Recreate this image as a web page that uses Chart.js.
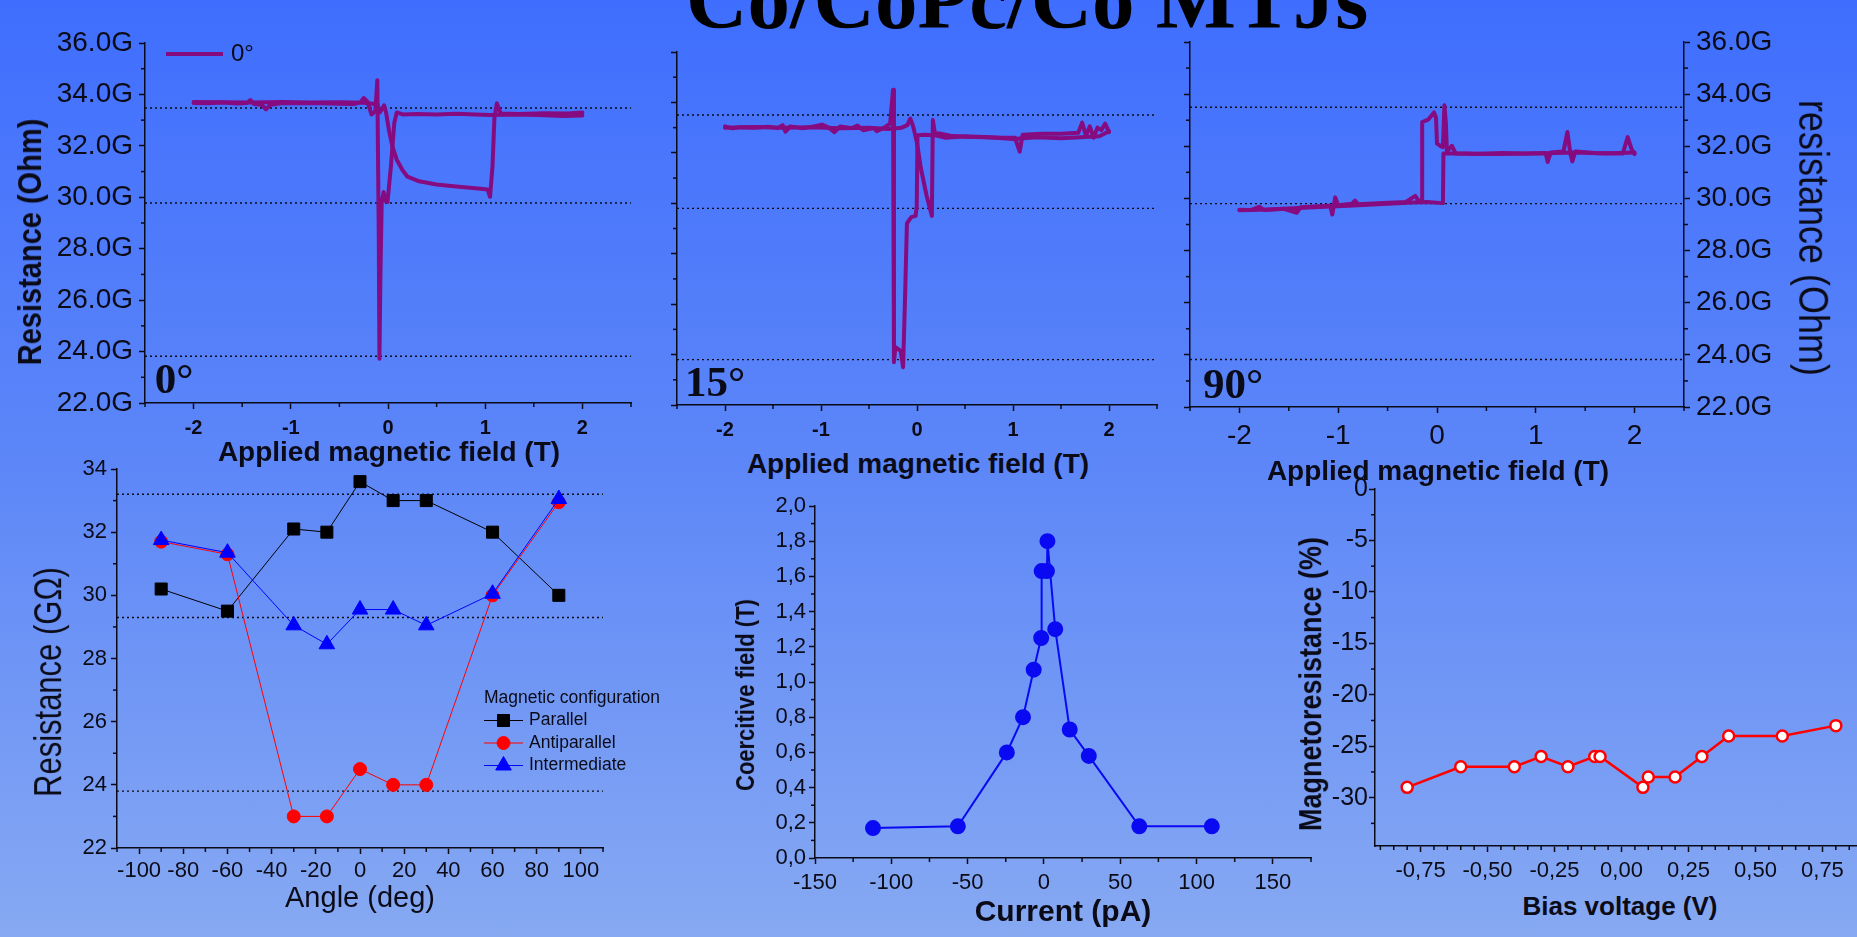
<!DOCTYPE html>
<html>
<head>
<meta charset="utf-8">
<script src="https://cdn.jsdelivr.net/npm/chart.js@4.4.1/dist/chart.umd.min.js"></script>
<style>
  html, body { margin: 0; padding: 0; }
  body {
    width: 1857px; height: 937px; overflow: hidden; position: relative;
    background: linear-gradient(to bottom, #3f6efe 0%, #5d87f8 50%, #87a9f2 100%);
    font-family: "Liberation Sans", Arial, sans-serif;
  }
  canvas { position: absolute; }
  .lbl { position: absolute; white-space: nowrap; color: #0b0b18; }
  #title {
    position: absolute; left: 686px; top: -43px; white-space: nowrap; color: #000;
    font: bold 85px/85px "Liberation Serif", "Times New Roman", serif;
  }
</style>
</head>
<body>
<div id="title">Co/CoPc/Co MTJs</div>
<canvas id="loop0"></canvas>
<canvas id="loop15"></canvas>
<canvas id="loop90"></canvas>
<canvas id="angle"></canvas>
<canvas id="coercive"></canvas>
<canvas id="bias"></canvas>
<script>
// ---- R(H) loops, field in T, resistance in GOhm ----
const sweep0Up = [[-2.00,33.67],[-1.85,33.66],[-1.70,33.69],[-1.55,33.65],[-1.45,33.67],[-1.415,33.78],[-1.38,33.63],[-1.30,33.60],[-1.255,33.42],[-1.21,33.60],[-1.10,33.66],[-0.90,33.67],[-0.70,33.66],[-0.50,33.64],[-0.35,33.63],[-0.28,33.70],[-0.25,33.86],[-0.21,33.72],[-0.17,33.22],[-0.13,33.35],[-0.11,34.55],[-0.095,28.5],[-0.088,23.72],[-0.078,27.0],[-0.065,29.80],[-0.045,30.20],[-0.025,29.85],[-0.005,29.82],[0.03,31.2],[0.065,32.9],[0.09,33.30],[0.15,33.22],[0.30,33.24],[0.50,33.22],[0.70,33.25],[0.90,33.22],[1.05,33.20],[1.30,33.22],[1.55,33.20],[1.80,33.16],[2.00,33.18]];
const sweep0Down = [[2.00,33.30],[1.85,33.26],[1.60,33.27],[1.35,33.24],[1.16,33.26],[1.12,33.65],[1.095,33.10],[1.075,31.2],[1.05,30.02],[1.025,30.30],[0.90,30.35],[0.70,30.42],[0.50,30.50],[0.32,30.62],[0.20,30.80],[0.15,31.05],[0.09,31.46],[0.045,31.98],[0.01,32.60],[-0.02,33.30],[-0.04,33.58],[-0.06,33.45],[-0.085,33.30],[-0.11,33.62],[-0.25,33.68],[-0.50,33.70],[-0.80,33.69],[-1.10,33.71],[-1.40,33.69],[-1.70,33.70],[-2.00,33.71]];
const sweep15Up = [[-2.00,33.05],[-1.92,32.97],[-1.85,33.02],[-1.70,33.00],[-1.55,33.04],[-1.45,32.98],[-1.40,33.10],[-1.37,32.84],[-1.32,33.05],[-1.20,32.98],[-1.10,33.03],[-0.99,33.12],[-0.92,33.00],[-0.86,32.82],[-0.80,33.05],[-0.68,32.98],[-0.62,33.08],[-0.56,32.90],[-0.45,32.98],[-0.42,32.86],[-0.34,33.00],[-0.28,33.16],[-0.25,34.50],[-0.24,23.70],[-0.225,24.30],[-0.17,24.15],[-0.145,23.50],[-0.125,26.20],[-0.105,29.20],[-0.06,29.45],[-0.015,29.50],[-0.003,29.86],[0.005,32.70],[0.08,32.72],[0.18,32.70],[0.22,32.78],[0.35,32.68],[0.50,32.64],[0.70,32.62],[0.90,32.60],[1.02,32.60],[1.07,32.05],[1.10,32.72],[1.30,32.76],[1.50,32.76],[1.68,32.80],[1.72,33.20],[1.76,32.68],[1.80,33.05],[1.84,32.60],[1.88,33.00],[1.92,32.90],[1.96,33.16],[2.00,32.82]];
const sweep15Down = [[2.00,32.86],[1.90,32.66],[1.70,32.62],[1.50,32.58],[1.25,32.62],[1.00,32.55],[0.75,32.62],[0.50,32.66],[0.30,32.60],[0.19,32.70],[0.165,33.30],[0.155,29.50],[0.10,30.30],[0.04,31.40],[0.00,32.40],[-0.04,33.05],[-0.07,33.36],[-0.10,33.10],[-0.16,33.00],[-0.30,32.95],[-0.50,33.00],[-0.80,32.98],[-1.10,33.02],[-1.40,33.00],[-1.70,33.03],[-2.00,33.00]];
const sweep90Up = [[-2.00,29.57],[-1.88,29.56],[-1.80,29.68],[-1.75,29.56],[-1.55,29.60],[-1.42,29.45],[-1.38,29.66],[-1.20,29.70],[-1.08,29.72],[-1.06,29.38],[-1.03,30.04],[-1.00,29.74],[-0.86,29.80],[-0.83,29.92],[-0.80,29.78],[-0.55,29.82],[-0.32,29.86],[-0.22,30.10],[-0.18,29.88],[-0.15,29.90],[-0.15,32.93],[-0.09,33.02],[-0.03,33.30],[-0.01,33.10],[0.00,32.10],[0.04,32.00],[0.06,31.97],[0.075,33.57],[0.09,32.90],[0.10,31.80],[0.15,32.02],[0.19,31.72],[0.40,31.70],[0.65,31.74],[0.90,31.72],[1.10,31.74],[1.12,31.40],[1.15,31.76],[1.28,31.80],[1.32,32.55],[1.35,31.72],[1.37,31.42],[1.40,31.80],[1.60,31.74],[1.88,31.72],[1.93,32.35],[1.97,31.88],[2.00,31.70]];
const sweep90Down = [[2.00,31.76],[1.70,31.72],[1.40,31.76],[1.00,31.72],[0.60,31.70],[0.30,31.72],[0.065,31.72],[0.06,29.82],[-0.10,29.86],[-0.25,29.84],[-0.50,29.80],[-0.90,29.72],[-1.30,29.65],[-1.70,29.58],[-2.00,29.55]];
const refLevels0 = [33.47, 29.78, 23.82];
const refLevels15 = [33.5, 29.8, 23.8];
const refLevels90 = [33.5, 29.8, 23.82];

// ---- resistance vs angle ----
const angles = [-90, -60, -30, -15, 0, 15, 30, 60, 90];
const rParallel = [30.2, 29.5, 32.1, 32.0, 33.6, 33.0, 33.0, 32.0, 30.0];
const rAntiparallel = [31.7, 31.3, 23.0, 23.0, 24.5, 24.0, 24.0, 30.0, 32.95];
const rIntermediate = [31.75, 31.35, 29.05, 28.45, 29.55, 29.55, 29.05, 30.05, 33.05];
const angleRefLevels = [33.2, 29.3, 23.8];

// ---- coercive field vs current ----
const currentPA = [-112, -56.4, -24.3, -13.7, -6.7, -1.8, -1.5, 2.0, 2.3, 7.4, 16.9, 29.4, 62.5, 110];
const coerciveT = [0.17, 0.18, 0.60, 0.80, 1.07, 1.25, 1.63, 1.63, 1.80, 1.30, 0.73, 0.58, 0.18, 0.18];

// ---- magnetoresistance vs bias ----
const biasV = [-0.80, -0.60, -0.40, -0.30, -0.20, -0.10, -0.08, 0.08, 0.10, 0.20, 0.30, 0.40, 0.60, 0.80];
const mrPct = [-29, -27, -27, -26, -27, -26, -26, -29, -28, -28, -26, -24, -24, -23];

// ---- tick labels ----
const fieldTicks = [-2, -1, 0, 1, 2];
const gohmTicks = [22, 24, 26, 28, 30, 32, 34, 36];
const angleTicks = [-100, -80, -60, -40, -20, 0, 20, 40, 60, 80, 100];
const angleResTicks = [22, 24, 26, 28, 30, 32, 34];
const currentTicks = [-150, -100, -50, 0, 50, 100, 150];
const coerciveTicks = [0, 0.2, 0.4, 0.6, 0.8, 1.0, 1.2, 1.4, 1.6, 1.8, 2.0];
const biasTicks = [-0.75, -0.5, -0.25, 0, 0.25, 0.5, 0.75];
const mrTicks = [-30, -25, -20, -15, -10, -5, 0];

const INK = '#0b0b18';
const PURPLE = '#860b80';
const SANS = '"Liberation Sans", Arial, sans-serif';
const fieldMin = -2.5, fieldMax = 2.5;

const pts = arr => arr.map(([x, y]) => ({ x, y }));
const zip = (xs, ys) => xs.map((x, i) => ({ x, y: ys[i] }));
const comma = d => v => v.toFixed(d).replace('.', ',').replace(/^-(0,0+)$/, '$1');
const blank = () => '';

function dotted(levels, x0, x1) {
  return levels.map(v => ({
    data: [{ x: x0, y: v }, { x: x1, y: v }],
    borderColor: INK, borderWidth: 1.4, borderDash: [2, 3], pointRadius: 0
  }));
}

function loop(data, label) {
  return {
    label, inLegend: !!label, data: pts(data),
    borderColor: PURPLE, borderWidth: 4, pointRadius: 0,
    borderJoinStyle: 'round', borderCapStyle: 'round'
  };
}

function axis(min, max, ticks, fmt, font, pad, fit, extra) {
  return Object.assign({
    type: 'linear', min, max,
    afterBuildTicks: s => { s.ticks = ticks.map(value => ({ value })); },
    afterFit: fit,
    ticks: { callback: fmt, font, color: INK, padding: pad, autoSkip: false, maxRotation: 0, minRotation: 0 },
    grid: { drawOnChartArea: false, drawTicks: true, tickLength: 6, tickColor: INK, tickWidth: 1.5 },
    border: { display: true, color: INK, width: 1.5 }
  }, extra || {});
}

// short unlabelled ticks between the major ones
function minorTicks(steps) {
  return {
    id: 'minorTicks',
    afterDraw(chart) {
      const { ctx, chartArea: a } = chart;
      ctx.save();
      ctx.strokeStyle = INK;
      ctx.lineWidth = 1.5;
      steps.forEach(([id, step]) => {
        const s = chart.scales[id];
        const majors = s.ticks.map(t => t.value);
        for (let k = Math.ceil(s.min / step - 1e-9); k * step <= s.max + 1e-9; k++) {
          const v = k * step;
          if (majors.some(m => Math.abs(m - v) < step / 100)) continue;
          const p = s.getPixelForValue(v);
          ctx.beginPath();
          if (s.isHorizontal()) { ctx.moveTo(p, a.bottom); ctx.lineTo(p, a.bottom + 4); }
          else if (s.position === 'right') { ctx.moveTo(a.right, p); ctx.lineTo(a.right + 4, p); }
          else { ctx.moveTo(a.left, p); ctx.lineTo(a.left - 4, p); }
          ctx.stroke();
        }
      });
      ctx.restore();
    }
  };
}

// legend drawn inside the plot area
function insetLegend(cfg) {
  return {
    id: 'insetLegend',
    afterDatasetsDraw(chart) {
      const { ctx, chartArea: a } = chart;
      ctx.save();
      ctx.font = cfg.font;
      ctx.textBaseline = 'middle';
      ctx.fillStyle = INK;
      const x0 = a.left + cfg.x;
      let y = a.top + cfg.y;
      if (cfg.title) { ctx.fillText(cfg.title, x0, y); y += cfg.row; }
      chart.data.datasets.filter(d => d.inLegend).forEach(d => {
        ctx.strokeStyle = d.borderColor;
        ctx.lineWidth = d.borderWidth;
        ctx.beginPath(); ctx.moveTo(x0, y); ctx.lineTo(x0 + cfg.len, y); ctx.stroke();
        if (d.pointRadius > 0) {
          ctx.fillStyle = d.pointBackgroundColor;
          ctx.strokeStyle = d.pointBorderColor;
          ctx.lineWidth = 1;
          Chart.helpers.drawPoint(ctx, { pointStyle: d.pointStyle, radius: d.pointRadius, borderWidth: 1, rotation: 0 }, x0 + cfg.len / 2, y);
        }
        ctx.fillStyle = INK;
        ctx.fillText(d.label, x0 + cfg.len + cfg.gap, y);
        y += cfg.row;
      });
      ctx.restore();
    }
  };
}

function plot(id, area, m, datasets, scales, plugins) {
  const cv = document.getElementById(id);
  cv.width = area.r - area.l + m.l + m.r;
  cv.height = area.b - area.t + m.t + m.b;
  cv.style.left = (area.l - m.l) + 'px';
  cv.style.top = (area.t - m.t) + 'px';
  return new Chart(cv, {
    type: 'line',
    data: { datasets },
    options: {
      responsive: false, animation: false, devicePixelRatio: 1,
      layout: { padding: { top: m.t, right: m.rightAxis ? 0 : m.r, left: 0, bottom: 0 } },
      plugins: { legend: { display: false }, tooltip: { enabled: false } },
      elements: { line: { tension: 0 } },
      scales
    },
    plugins: plugins || []
  });
}

const f = (size, weight) => ({ family: SANS, size, weight: weight || 'normal' });
const gLabel = v => v.toFixed(1) + 'G';

// top row: three field sweeps
{
  const m = { l: 100, r: 10, t: 24, b: 40 };
  plot('loop0', { l: 145, t: 43, r: 631, b: 403 }, m,
    [loop(sweep0Up, '0°'), loop(sweep0Down), ...dotted(refLevels0, fieldMin, fieldMax)],
    {
      x: axis(fieldMin, fieldMax, fieldTicks, v => String(v), f(20, 'bold'), 7, s => { s.height = m.b; }),
      y: axis(22, 36, gohmTicks, gLabel, f(28), 6, s => { s.width = m.l; })
    },
    [minorTicks([['x', 0.5], ['y', 1]]), insetLegend({ x: 21, y: 11, len: 57, gap: 8, row: 24, font: '24px ' + SANS })]);
}
{
  const m = { l: 30, r: 10, t: 24, b: 40 };
  plot('loop15', { l: 677, t: 52, r: 1157, b: 405 }, m,
    [loop(sweep15Up), loop(sweep15Down), ...dotted(refLevels15, fieldMin, fieldMax)],
    {
      x: axis(fieldMin, fieldMax, fieldTicks, v => String(v), f(20, 'bold'), 7, s => { s.height = m.b; }),
      y: axis(22, 36, gohmTicks, blank, f(10), 0, s => { s.width = m.l; })
    },
    [minorTicks([['x', 0.5], ['y', 1]])]);
}
{
  const m = { l: 30, r: 110, t: 24, b: 50, rightAxis: true };
  plot('loop90', { l: 1190, t: 42, r: 1684, b: 407 }, m,
    [loop(sweep90Up), loop(sweep90Down), ...dotted(refLevels90, fieldMin, fieldMax)],
    {
      x: axis(fieldMin, fieldMax, fieldTicks, v => String(v), f(28), 6, s => { s.height = m.b; }),
      y: axis(22, 36, gohmTicks, blank, f(10), 0, s => { s.width = m.l; }),
      y2: axis(22, 36, gohmTicks, gLabel, f(28), 6, s => { s.width = m.r; }, { position: 'right', display: true })
    },
    [minorTicks([['x', 0.5], ['y', 1], ['y2', 1]])]);
}

// bottom row
{
  const m = { l: 60, r: 80, t: 24, b: 45 };
  const series = (label, ys, color, style, radius) => ({
    label, inLegend: true, data: zip(angles, ys),
    borderColor: color, borderWidth: 1, pointStyle: style, pointRadius: radius,
    pointBackgroundColor: color, pointBorderColor: color, pointBorderWidth: 1
  });
  plot('angle', { l: 117, t: 469, r: 603, b: 848 }, m,
    [
      Object.assign(series('Parallel', rParallel, '#000000', 'rect', 8.5), { order: 2 }),
      Object.assign(series('Antiparallel', rAntiparallel, '#ff0000', 'circle', 6.5), { order: 1 }),
      Object.assign(series('Intermediate', rIntermediate, '#0000ff', 'triangle', 9), { order: 0 }),
      ...dotted(angleRefLevels, -110, 110).map(d => Object.assign(d, { order: 3 }))
    ],
    {
      x: axis(-110, 110, angleTicks, v => String(v), f(22), 4, s => { s.height = m.b; }),
      y: axis(22, 34, angleResTicks, v => String(v), f(22), 4, s => { s.width = m.l; })
    },
    [minorTicks([['x', 10], ['y', 1]]),
     insetLegend({ title: 'Magnetic configuration', x: 367, y: 229, len: 39, gap: 6, row: 22.5, font: '17.5px ' + SANS })]);
}
{
  const m = { l: 60, r: 10, t: 24, b: 45 };
  plot('coercive', { l: 815, t: 506, r: 1311, b: 858 }, m,
    [{
      data: zip(currentPA, coerciveT), borderColor: '#0a0af2', borderWidth: 2,
      pointRadius: 7, pointBackgroundColor: '#0a0af2', pointBorderColor: '#0a0af2'
    }],
    {
      x: axis(-150, 175, currentTicks, v => String(v), f(22), 6, s => { s.height = m.b; }),
      y: axis(0, 2, coerciveTicks, comma(1), f(22), 3, s => { s.width = m.l; })
    },
    [minorTicks([['x', 25], ['y', 0.1]])]);
}
{
  const m = { l: 60, r: 10, t: 24, b: 45 };
  plot('bias', { l: 1375, t: 489, r: 1868, b: 846 }, m,
    [{
      data: zip(biasV, mrPct), borderColor: '#ff0000', borderWidth: 2.5,
      pointRadius: 5.5, pointBorderWidth: 2.5, pointBackgroundColor: '#ffffff', pointBorderColor: '#ff0000'
    }],
    {
      x: axis(-0.92, 0.92, biasTicks, comma(2), f(22), 6, s => { s.height = m.b; }),
      y: axis(-34.7, 0, mrTicks, v => String(v), f(25), 1, s => { s.width = m.l; })
    },
    [minorTicks([['x', 0.05], ['y', 2.5]])]);
}

// axis titles and panel tags
function addLabel(text, x, y, font, rot, stretch) {
  const el = document.createElement('div');
  el.className = 'lbl';
  el.textContent = text;
  el.style.font = font;
  el.style.left = x + 'px';
  el.style.top = y + 'px';
  el.style.transform = `translate(-50%, -50%) rotate(${rot || 0}deg) scaleY(${stretch || 1})`;
  document.body.appendChild(el);
}
const SERIF = '"Liberation Serif", "Times New Roman", serif';
addLabel('Resistance (Ohm)', 30, 242, `bold 29px/1 ${SANS}`, -90, 1.15);
addLabel('Applied magnetic field (T)', 389, 452, `bold 28px/1 ${SANS}`);
addLabel('Applied magnetic field (T)', 918, 464, `bold 28px/1 ${SANS}`);
addLabel('Applied magnetic field (T)', 1438, 471, `bold 28px/1 ${SANS}`);
addLabel('resistance (Ohm)', 1814, 238, `36px/1 ${SANS}`, 90, 1.2);
addLabel('Resistance (GΩ)', 48, 682, `31px/1 ${SANS}`, -90, 1.25);
addLabel('Angle (deg)', 360, 897, `29px/1 ${SANS}`);
addLabel('Coercitive field (T)', 746, 695, `bold 22px/1 ${SANS}`, -90, 1.15);
addLabel('Current (pA)', 1063, 911, `bold 30px/1 ${SANS}`);
addLabel('Magnetoresistance (%)', 1311, 684, `bold 27px/1 ${SANS}`, -90, 1.15);
addLabel('Bias voltage (V)', 1620, 906, `bold 26px/1 ${SANS}`);
addLabel('0°', 174, 378, `bold 43px/1 ${SERIF}`);
addLabel('15°', 715, 381, `bold 43px/1 ${SERIF}`);
addLabel('90°', 1233, 383, `bold 43px/1 ${SERIF}`);
</script>
</body>
</html>
